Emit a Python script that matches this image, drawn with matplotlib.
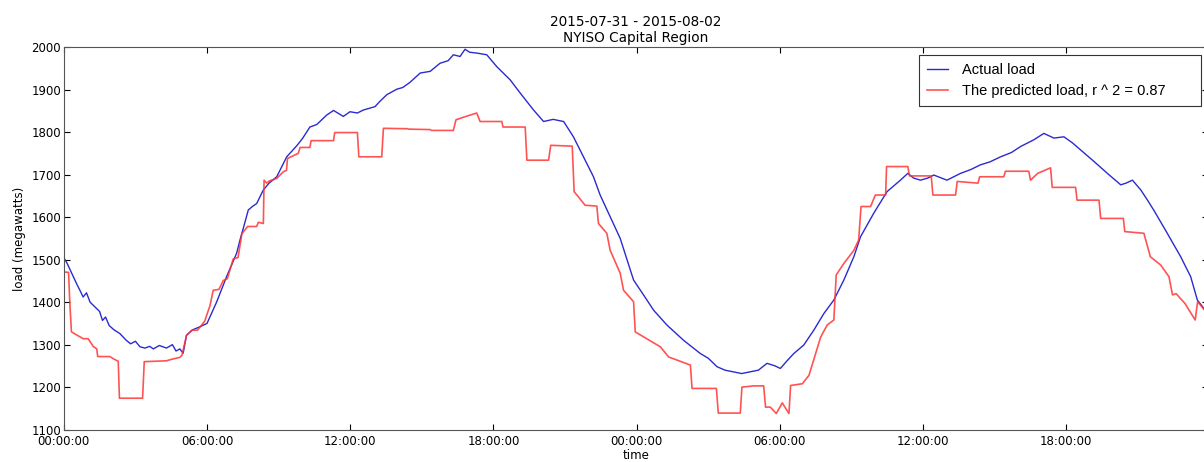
import datetime as dt
import matplotlib
matplotlib.use("Agg")
import matplotlib.pyplot as plt
import matplotlib.dates as mdates

# (hours since 2015-07-31 00:00, load in MW)
actual_points = [
    (0.0, 1505), (0.15, 1490), (0.53, 1444), (0.7, 1425), (0.81, 1412), (0.95, 1422), (1.1, 1400),
    (1.37, 1385), (1.5, 1378), (1.62, 1357), (1.75, 1365), (1.9, 1345), (2.1, 1335), (2.35, 1326),
    (2.62, 1310), (2.8, 1302), (3.0, 1308), (3.19, 1295), (3.4, 1292), (3.6, 1296), (3.75, 1290),
    (4.0, 1298), (4.3, 1292), (4.55, 1300), (4.7, 1285), (4.86, 1290), (5.0, 1280), (5.14, 1322),
    (5.4, 1335), (5.7, 1342), (6.0, 1350), (6.2, 1375), (6.4, 1400), (6.82, 1460), (7.24, 1515),
    (7.38, 1546), (7.55, 1580), (7.73, 1617), (7.9, 1625), (8.08, 1632), (8.36, 1664), (8.6, 1680),
    (8.92, 1695), (9.34, 1742), (9.76, 1768), (10.0, 1785), (10.31, 1812), (10.6, 1818), (11.01, 1840),
    (11.3, 1851), (11.71, 1837), (11.99, 1848), (12.3, 1845), (12.55, 1852), (13.04, 1860), (13.2, 1870),
    (13.53, 1888), (13.95, 1901), (14.2, 1905), (14.5, 1917), (14.93, 1939), (15.35, 1943), (15.76, 1962),
    (16.1, 1968), (16.32, 1982), (16.6, 1978), (16.81, 1995), (17.0, 1988), (17.3, 1986), (17.72, 1982),
    (18.14, 1954), (18.7, 1923), (19.12, 1892), (19.68, 1852), (20.1, 1825), (20.5, 1830), (20.94, 1825),
    (21.35, 1789), (21.77, 1742), (22.19, 1695), (22.47, 1652), (22.89, 1601), (23.31, 1550), (23.87, 1452),
    (24.43, 1405), (24.71, 1381), (25.27, 1346), (25.97, 1310), (26.67, 1279), (27.0, 1268), (27.37, 1248),
    (27.7, 1240), (28.06, 1236), (28.4, 1232), (28.76, 1236), (29.1, 1240), (29.46, 1256), (29.8, 1250),
    (30.02, 1244), (30.3, 1262), (30.58, 1279), (31.0, 1299), (31.42, 1334), (31.84, 1373), (32.26, 1405),
    (32.68, 1452), (33.1, 1507), (33.38, 1554), (33.93, 1609), (34.49, 1660), (35.05, 1687), (35.36, 1703),
    (35.6, 1692), (35.89, 1687), (36.2, 1692), (36.45, 1699), (37.0, 1687), (37.57, 1703), (38.0, 1712),
    (38.4, 1723), (38.8, 1730), (39.25, 1742), (39.7, 1752), (40.08, 1766), (40.64, 1782), (41.06, 1797),
    (41.48, 1786), (41.9, 1789), (42.25, 1775), (42.6, 1758), (43.16, 1731), (43.72, 1703), (44.28, 1676),
    (44.5, 1680), (44.77, 1687), (45.12, 1664), (45.4, 1640), (45.68, 1615), (46.23, 1562), (46.79, 1507),
    (47.21, 1460), (47.49, 1405), (47.7, 1390), (47.92, 1373),
]

pred_points = [
    (0.0, 1471), (0.2, 1470), (0.25, 1400), (0.32, 1330), (0.81, 1314), (1.02, 1314), (1.23, 1296),
    (1.38, 1290), (1.42, 1272), (1.93, 1272), (2.1, 1266), (2.28, 1261), (2.33, 1174), (3.3, 1174),
    (3.37, 1260), (4.3, 1262), (4.55, 1266), (4.86, 1270), (4.95, 1275), (5.14, 1322), (5.36, 1334),
    (5.6, 1334), (5.9, 1355), (6.12, 1391), (6.26, 1428), (6.5, 1430), (6.68, 1451), (6.85, 1455),
    (7.1, 1502), (7.3, 1505), (7.46, 1561), (7.7, 1578), (8.08, 1578), (8.15, 1588), (8.36, 1585),
    (8.39, 1687), (8.5, 1680), (8.6, 1685), (8.92, 1691), (9.2, 1707), (9.33, 1710), (9.37, 1738),
    (9.82, 1750), (9.9, 1764), (10.31, 1764), (10.36, 1780), (11.3, 1780), (11.35, 1799), (12.3, 1799),
    (12.36, 1742), (13.32, 1742), (13.39, 1809), (14.4, 1808), (14.45, 1807), (15.35, 1806), (15.4, 1804),
    (16.32, 1804), (16.43, 1829), (16.74, 1835), (17.3, 1845), (17.44, 1825), (18.35, 1825), (18.4, 1812),
    (19.33, 1812), (19.4, 1734), (20.31, 1734), (20.4, 1769), (21.3, 1767), (21.38, 1660), (21.84, 1628),
    (22.33, 1626), (22.4, 1585), (22.75, 1562), (22.89, 1522), (23.31, 1468), (23.45, 1428), (23.87, 1401),
    (23.94, 1330), (24.99, 1295), (25.34, 1271), (26.25, 1252), (26.32, 1197), (27.34, 1197), (27.42, 1139),
    (28.34, 1139), (28.41, 1200), (28.9, 1203), (29.32, 1203), (29.4, 1153), (29.6, 1153), (29.85, 1138),
    (30.1, 1163), (30.38, 1138), (30.45, 1204), (30.94, 1208), (31.22, 1228), (31.5, 1279), (31.71, 1318),
    (31.98, 1346), (32.26, 1358), (32.36, 1464), (32.68, 1491), (33.1, 1522), (33.3, 1546), (33.4, 1625),
    (33.8, 1625), (34.0, 1652), (34.43, 1652), (34.47, 1719), (35.36, 1719), (35.43, 1697), (36.34, 1697),
    (36.41, 1652), (37.36, 1652), (37.43, 1684), (38.3, 1680), (38.37, 1695), (39.38, 1695), (39.45, 1708),
    (40.43, 1708), (40.5, 1687), (40.8, 1703), (41.34, 1716), (41.41, 1670), (42.39, 1670), (42.45, 1640),
    (43.37, 1640), (43.44, 1597), (44.39, 1597), (44.45, 1566), (45.25, 1562), (45.52, 1507), (45.96, 1487),
    (46.3, 1460), (46.45, 1417), (46.6, 1420), (46.97, 1397), (47.4, 1358), (47.5, 1401), (47.92, 1373),
]

start = dt.datetime(2015, 7, 31)
t_actual = [start + dt.timedelta(hours=h) for h, _ in actual_points]
y_actual = [v for _, v in actual_points]
t_pred = [start + dt.timedelta(hours=h) for h, _ in pred_points]
y_pred = [v for _, v in pred_points]

fig = plt.figure(figsize=(12.04, 4.62), dpi=100)
# the right edge of the axes sits just past the picture, as in the cropped original
ax = fig.add_axes([0.053, 0.070, 0.950, 0.828])

ax.plot(t_actual, y_actual, color="#2a2ad0", lw=1.0, label="Actual load")
ax.plot(t_pred, y_pred, color="#ff3535", lw=1.2, alpha=0.85, label="The predicted load, r ^ 2 = 0.87")

ax.set_ylim(1100, 2000)
ax.set_xlim(t_actual[0], t_actual[-1])
ax.xaxis.set_major_locator(mdates.HourLocator(byhour=[0, 6, 12, 18]))
ax.xaxis.set_major_formatter(mdates.DateFormatter("%H:%M:%S"))
ax.tick_params(direction="in", top=True, right=True, labelsize=8.5, length=4)
ax.tick_params(axis="x", pad=3.5)
ax.tick_params(axis="y", pad=2)
for s in ax.spines.values():
    s.set_color("#555555")

ax.set_xlabel("time", fontsize=8.5, labelpad=1)
ax.set_ylabel("load (megawatts)", fontsize=8.5)
ax.set_title("2015-07-31 - 2015-08-02\nNYISO Capital Region", fontsize=9.8, linespacing=1.1, pad=4)

leg = ax.legend(loc="upper right", bbox_to_anchor=(0.748, 0.0, 0.246, 0.979), mode="expand",
                borderaxespad=0.0, prop={"family": "Liberation Sans", "size": 10.5}, fancybox=False,
                framealpha=1, edgecolor="#333333", handlelength=1.4, handletextpad=1.0,
                borderpad=0.55, labelspacing=0.45)
leg.get_frame().set_linewidth(0.8)

fig.savefig("out.png", dpi=100)
